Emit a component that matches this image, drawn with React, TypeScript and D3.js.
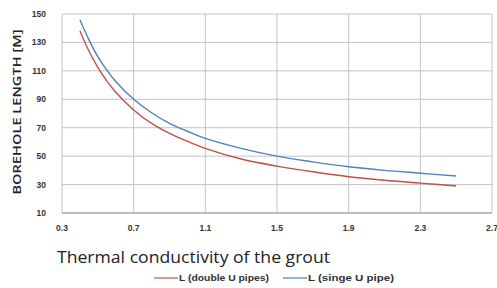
import React from "react"
import * as d3 from "d3"

const conductivity = [0.4, 0.45, 0.5, 0.55, 0.6, 0.7, 0.8, 0.9, 1.0, 1.1, 1.3, 1.5, 1.7, 1.9, 2.1, 2.3, 2.5]
const doubleU = [138, 124, 112.5, 103, 95, 82.5, 73, 66, 60.5, 55.5, 48, 43, 39, 35.5, 33, 31, 29]
const singleU = [146, 132, 120, 110.5, 102.5, 90, 80.5, 73, 67.5, 62.5, 55.5, 50, 46, 42.5, 40, 38, 36]
const xTicks = [0.3, 0.7, 1.1, 1.5, 1.9, 2.3, 2.7]
const yTicks = [10, 30, 50, 70, 90, 110, 130, 150]

const W = 497
const H = 288
const left = 62
const right = 492
const top = 14
const bottom = 213

export default function App() {
  const x = d3.scaleLinear().domain([0.3, 2.7]).range([left, right])
  const y = d3.scaleLinear().domain([10, 150]).range([bottom, top])

  const line = (vals: number[]) =>
    d3
      .line<number>()
      .x((_, i) => x(conductivity[i]))
      .y((d) => y(d))
      .curve(d3.curveCatmullRom.alpha(0.5))(vals) || ""

  const tickFont = "'Liberation Sans', Arial, sans-serif"

  return (
    <svg
      width={W}
      height={H}
      style={{ position: "absolute", left: 0, top: 0, background: "#fff" }}
      fontFamily={tickFont}
    >
      {/* grid */}
      {xTicks.map((t) => (
        <line key={"gx" + t} x1={x(t)} x2={x(t)} y1={top} y2={bottom} stroke="#c4c4c4" strokeWidth={1} />
      ))}
      {yTicks.map((t) => (
        <line key={"gy" + t} x1={left} x2={right} y1={y(t)} y2={y(t)} stroke="#c4c4c4" strokeWidth={1} />
      ))}
      <line x1={left} x2={right} y1={bottom} y2={bottom} stroke="#9a9a9a" strokeWidth={1.2} />

      {/* tick labels */}
      {yTicks.map((t) => (
        <text key={"ty" + t} x={46} y={y(t) + 3} fontSize={8.5} fontWeight="bold" fill="#333" textAnchor="end">
          {t}
        </text>
      ))}
      {xTicks.map((t) => (
        <text key={"tx" + t} x={x(t)} y={231} fontSize={8.5} fontWeight="bold" fill="#333" textAnchor="middle">
          {t.toFixed(1)}
        </text>
      ))}

      {/* series */}
      <path d={line(singleU)} fill="none" stroke="#4f81bd" strokeWidth={1.4} />
      <path d={line(doubleU)} fill="none" stroke="#c0504d" strokeWidth={1.4} />

      {/* axis titles */}
      <text
        transform={`translate(21,${112}) rotate(-90)`}
        fontSize={11.5}
        fill="#222"
        textAnchor="middle"
        fontFamily="'Open Sans', sans-serif"
        fontWeight="600"
        textLength={165}
        lengthAdjust="spacingAndGlyphs"
      >
        BOREHOLE  LENGTH [M]
      </text>
      <text
        x={57}
        y={263}
        fontSize={16}
        fill="#222"
        fontFamily="'Open Sans', sans-serif"
        fontWeight="500"
        textLength={273}
        lengthAdjust="spacingAndGlyphs"
      >
        Thermal  conductivity of the grout
      </text>

      {/* legend */}
      <line x1={154} x2={178} y1={278} y2={278} stroke="#c0504d" strokeWidth={1.2} />
      <text x={179} y={281} fontSize={8.5} fontWeight="bold" fill="#333" textLength={90} lengthAdjust="spacingAndGlyphs">
        L (double U pipes)
      </text>
      <line x1={283} x2={307} y1={278} y2={278} stroke="#4f81bd" strokeWidth={1.2} />
      <text x={308} y={281} fontSize={8.5} fontWeight="bold" fill="#333" textLength={86} lengthAdjust="spacingAndGlyphs">
        L (singe U pipe)
      </text>
    </svg>
  )
}
